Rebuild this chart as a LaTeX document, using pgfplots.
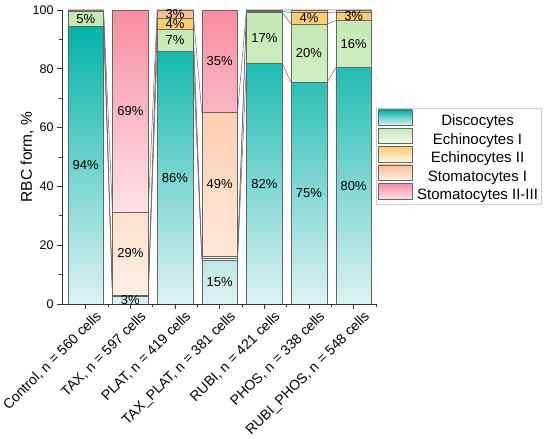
\documentclass[border=0pt]{standalone}
\usepackage{pgfplots}
\usepackage{pgfplotstable}
\pgfplotsset{compat=1.18}
\usepackage{fontspec}
\setmainfont{Liberation Sans}

\definecolor{discT}{RGB}{0,178,168}
\definecolor{discB}{RGB}{222,242,242}
\definecolor{ech1T}{RGB}{195,232,178}
\definecolor{ech1B}{RGB}{247,252,243}
\definecolor{ech2T}{RGB}{255,204,110}
\definecolor{ech2B}{RGB}{255,248,232}
\definecolor{st1T}{RGB}{250,190,150}
\definecolor{st1B}{RGB}{254,238,228}
\definecolor{st2T}{RGB}{247,140,160}
\definecolor{st2B}{RGB}{253,226,233}

\pgfplotstableread{
x D E1 E2 S1 S23 lD lE1 lE2 lS1 lS23
0 94.5 5.0 0.2 0.3 0.0 94\% 5\% {} {} {}
1 2.7 0.2 0.2 28.2 68.7 3\% {} {} 29\% 69\%
2 86.0 7.4 3.9 2.7 0.0 86\% 7\% 4\% 3\% {}
3 15.0 0.7 0.6 48.9 34.8 15\% {} {} 49\% 35\%
4 81.9 17.4 0.3 0.4 0.0 82\% 17\% {} {} {}
5 75.3 19.9 3.9 0.9 0.0 75\% 20\% 4\% {} {}
6 80.4 16.0 2.9 0.7 0.0 80\% 16\% 3\% {} {}
}\data

\pgfplotsset{
  segment/.style 2 args={draw=black!60, top color=#1, bottom color=#2,
    nodes near coords, point meta=explicit symbolic,
    every node near coord/.style={anchor=center, inner sep=0pt, text=black, font=\fontsize{13}{13}\selectfont}},
  connector/.style={stack plots=false, forget plot, sharp plot, mark=none, black!60, line width=0.5pt},
}

\begin{document}
\begin{tikzpicture}
\begin{axis}[
  at={(62pt,135pt)}, anchor=south west,
  scale only axis, width=314pt, height=294pt,
  ybar stacked, bar width=0.8,
  xmin=-0.53, xmax=6.5, ymin=0, ymax=100,
  axis x line*=bottom, axis y line*=left,
  axis line style={black!80, line width=0.6pt},
  every tick/.style={black!80, line width=0.6pt},
  tick align=outside,
  major tick length=5pt, minor tick length=3pt,
  xtick={0,...,6},
  minor xtick={0.5,1.5,...,6.5},
  xticklabels={{Control, n = 560 cells},{TAX, n = 597 cells},{PLAT, n = 419 cells},{TAX\_PLAT, n = 381 cells},{RUBI, n = 421 cells},{PHOS, n = 338 cells},{RUBI\_PHOS, n = 548 cells}},
  xticklabel style={rotate=45, anchor=north east, inner sep=1pt, xshift=7pt, yshift=-6pt, font=\fontsize{14}{14}\selectfont},
  ytick={0,20,...,100},
  minor y tick num=1,
  yticklabel style={font=\fontsize{12.5}{12.5}\selectfont},
  /pgf/number format/assume math mode=true,
  ylabel={RBC form, \%},
  ylabel style={at={(axis description cs:-0.111,0.5)}, anchor=center, font=\fontsize{15.5}{15.5}\selectfont},
  legend style={at={(1.0,0.667)}, anchor=north west, draw=black!20, fill=white,
    font=\fontsize{15}{15}\selectfont, inner xsep=2pt, inner ysep=1.5pt, row sep=-1.5pt, column sep=3pt,
    nodes={inner ysep=0.5pt, inner xsep=1.5pt, text height=11pt, text depth=3pt}},
  legend cell align=center,
  legend image code/.code={\draw[#1] (0pt,-3.2pt) rectangle (34pt,12.2pt);},
]
\addplot[segment={discT}{discB}] table[x=x,y=D,meta=lD]{\data};
\addlegendentry{Discocytes}
\addplot[segment={ech1T}{ech1B}] table[x=x,y=E1,meta=lE1]{\data};
\addlegendentry{Echinocytes I}
\addplot[segment={ech2T}{ech2B}] table[x=x,y=E2,meta=lE2]{\data};
\addlegendentry{Echinocytes II}
\addplot[segment={st1T}{st1B}] table[x=x,y=S1,meta=lS1]{\data};
\addlegendentry{Stomatocytes I}
\addplot[segment={st2T}{st2B}] table[x=x,y=S23,meta=lS23]{\data};
\addlegendentry{Stomatocytes II-III}

\addplot[connector] coordinates {
(-0.4,94.5)(0.4,94.5)(0.6,2.7)(1.4,2.7)(1.6,86.0)(2.4,86.0)(2.6,15.0)(3.4,15.0)(3.6,81.9)(4.4,81.9)(4.6,75.3)(5.4,75.3)(5.6,80.4)(6.4,80.4)};
\addplot[connector] coordinates {
(-0.4,99.5)(0.4,99.5)(0.6,2.9)(1.4,2.9)(1.6,93.4)(2.4,93.4)(2.6,15.7)(3.4,15.7)(3.6,99.3)(4.4,99.3)(4.6,95.2)(5.4,95.2)(5.6,96.4)(6.4,96.4)};
\addplot[connector] coordinates {
(-0.4,99.7)(0.4,99.7)(0.6,3.1)(1.4,3.1)(1.6,97.3)(2.4,97.3)(2.6,16.3)(3.4,16.3)(3.6,99.6)(4.4,99.6)(4.6,99.1)(5.4,99.1)(5.6,99.3)(6.4,99.3)};
\addplot[connector] coordinates {
(-0.4,100)(0.4,100)(0.6,31.3)(1.4,31.3)(1.6,100)(2.4,100)(2.6,65.2)(3.4,65.2)(3.6,100)(4.4,100)(4.6,100)(5.4,100)(5.6,100)(6.4,100)};
\end{axis}
\pgfresetboundingbox
\path[use as bounding box] (0,0) rectangle (550pt,439pt);
\end{tikzpicture}
\end{document}
